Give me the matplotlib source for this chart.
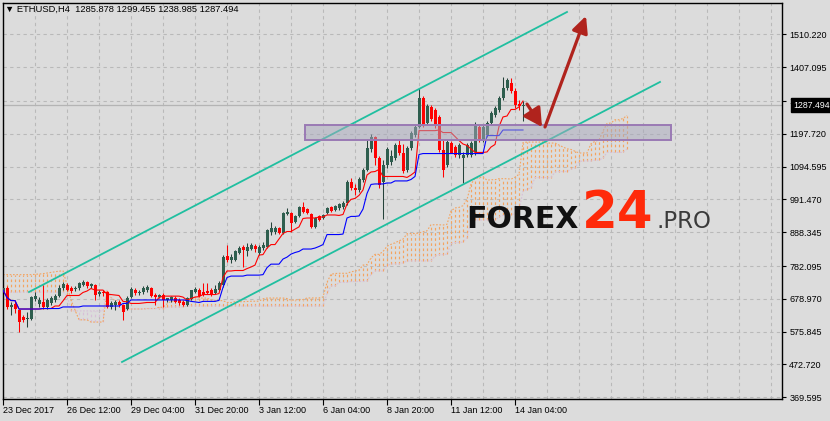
import numpy as np
import pandas as pd
import matplotlib
matplotlib.use("Agg")
import matplotlib.pyplot as plt
import matplotlib.transforms as mtransforms
from matplotlib.patches import Rectangle, FancyArrowPatch

# ETHUSD H4 candles (bar 0 = 23 Dec 2017)
opens = [700, 713, 653, 663, 644, 622, 616, 616, 679, 663, 669, 653, 666, 675, 688, 713,
         722, 713, 710, 713, 722, 732, 719, 722, 694, 700, 700, 653, 660, 669, 660, 647,
         685, 707, 697, 700, 707, 713, 691, 685, 691, 675, 675, 682, 675, 669, 660, 679,
         700, 707, 700, 705, 707, 697, 707, 722, 814, 801, 801, 823, 842, 829, 836, 845,
         823, 839, 842, 889, 889, 902, 886, 946, 949, 920, 939, 968, 961, 946, 905, 939,
         933, 949, 968, 958, 964, 968, 980, 1046, 1027, 1021, 1052, 1084, 1150, 1187, 1122, 1046,
         1099, 1109, 1122, 1162, 1137, 1084, 1153, 1194, 1219, 1310, 1231, 1282, 1272, 1250, 1147, 1099,
         1169, 1156, 1131, 1122, 1131, 1131, 1140, 1219, 1178, 1194, 1231, 1257, 1272, 1310, 1341, 1357,
         1332, 1291, 1285.878]
highs = [719, 719, 669, 675, 647, 628, 638, 688, 700, 685, 722, 682, 688, 694, 722, 732,
         729, 719, 719, 732, 738, 735, 729, 726, 707, 707, 704, 672, 675, 675, 662, 688,
         716, 713, 707, 719, 722, 716, 697, 694, 697, 682, 688, 688, 682, 675, 685, 707,
         716, 713, 729, 729, 713, 722, 735, 817, 848, 820, 832, 845, 848, 854, 854, 851,
         848, 857, 898, 920, 908, 905, 952, 964, 952, 942, 971, 983, 964, 949, 936, 942,
         946, 968, 971, 974, 980, 986, 1052, 1059, 1040, 1062, 1090, 1181, 1197, 1191, 1128, 1115,
         1156, 1147, 1169, 1178, 1165, 1159, 1206, 1225, 1341, 1316, 1291, 1288, 1279, 1257, 1178, 1178,
         1175, 1162, 1169, 1140, 1169, 1175, 1235, 1225, 1225, 1238, 1269, 1285, 1316, 1376, 1373, 1373,
         1341, 1304, 1299.455]
lows = [694, 647, 628, 635, 575, 606, 591, 613, 672, 653, 647, 647, 660, 669, 685, 707,
        704, 697, 704, 707, 719, 713, 713, 675, 688, 688, 650, 647, 644, 653, 613, 644,
        682, 691, 691, 694, 700, 685, 660, 682, 653, 669, 669, 666, 660, 656, 656, 675,
        697, 685, 688, 694, 688, 694, 704, 716, 795, 792, 798, 820, 779, 814, 832, 826,
        817, 832, 839, 880, 883, 883, 883, 942, 889, 917, 936, 949, 946, 902, 902, 924,
        930, 946, 952, 955, 958, 961, 974, 1021, 1005, 1015, 1046, 1081, 1140, 1099, 1027, 930,
        1090, 1099, 1115, 1131, 1074, 1078, 1147, 1188, 1216, 1219, 1225, 1238, 1216, 1140, 1062, 1093,
        1137, 1125, 1122, 1043, 1125, 1125, 1131, 1172, 1172, 1188, 1225, 1250, 1266, 1304, 1335, 1326,
        1279, 1272, 1238.985]
closes = [713, 653, 660, 647, 606, 613, 619, 685, 688, 675, 653, 675, 682, 688, 713, 726,
          707, 704, 713, 729, 732, 719, 726, 691, 700, 697, 653, 666, 669, 660, 638, 682,
          710, 697, 700, 713, 716, 688, 685, 691, 675, 682, 685, 669, 666, 660, 682, 707,
          710, 688, 691, 697, 691, 710, 729, 810, 801, 810, 829, 839, 832, 842, 848, 836,
          842, 848, 895, 902, 902, 886, 949, 952, 917, 939, 968, 952, 949, 905, 933, 927,
          942, 964, 955, 971, 977, 980, 1046, 1027, 1021, 1056, 1084, 1153, 1187, 1122, 1037, 1099,
          1150, 1128, 1162, 1137, 1081, 1153, 1200, 1219, 1310, 1225, 1285, 1244, 1225, 1147, 1084, 1172,
          1137, 1131, 1162, 1131, 1162, 1169, 1225, 1178, 1219, 1231, 1263, 1279, 1310, 1341, 1367, 1332,
          1288, 1285, 1287.494]

# cloud over bars 0-25 comes from history before the visible window
lead_span_a = [755, 755, 755, 755, 755, 755, 755, 755, 756, 757, 758, 760, 762, 764, 766, 767,
               723, 675, 644, 613, 613, 613, 606, 606, 606, 606]
lead_span_b = [700, 700, 700, 700, 700, 700, 700, 700, 700, 700, 700, 700, 700, 700, 700, 700,
               690, 641, 641, 641, 641, 641, 641, 641, 641, 641]

date_pos = [0, 16, 32, 48, 64, 80, 96, 112, 128]
date_labels = ["23 Dec 2017", "26 Dec 12:00", "29 Dec 04:00", "31 Dec 20:00", "3 Jan 12:00",
               "6 Jan 04:00", "8 Jan 20:00", "11 Jan 12:00", "14 Jan 04:00"]
price_ticks = [1510.220, 1407.095, 1300.945, 1197.720, 1094.595, 991.470, 888.345,
               782.095, 678.970, 575.845, 472.720, 369.595]

# drawn objects (bar index, price)
channel_up = [(6.5, 700.5), (141.0, 1580.3)]
channel_dn = [(29.75, 480.6), (164.25, 1360.4)]
zone = (75.5, 1179.1, 167.0, 1223.7)   # x0, y0, x1, y1
arrow_down = [(131.0, 1291.0), (134.75, 1219.0)]
arrow_up = [(135.5, 1219.0), (145.75, 1568.0)]

BG = "#dcdcdc"
BULL = "#2e5e4e"
BEAR = "#ff0000"

plt.rcParams['font.family'] = ['Liberation Sans', 'DejaVu Sans']

n = len(closes)
x = np.arange(n)
o = np.array(opens, float)
h = np.array(highs, float)
l = np.array(lows, float)
c = np.array(closes, float)

# Ichimoku (9, 26, 52)
df = pd.DataFrame({"h": h, "l": l})
tenkan = (df.h.rolling(9, min_periods=1).max() + df.l.rolling(9, min_periods=1).min()) / 2
kijun = (df.h.rolling(26, min_periods=1).max() + df.l.rolling(26, min_periods=1).min()) / 2
span_a = np.concatenate([lead_span_a, ((tenkan + kijun) / 2).values])
span_b = np.concatenate([lead_span_b,
                         ((df.h.rolling(52, min_periods=1).max() + df.l.rolling(52, min_periods=1).min()) / 2).values])
x_span = np.arange(len(span_a))

W, H = 830, 421
fig = plt.figure(figsize=(W / 100, H / 100), dpi=100, facecolor=BG)
ax = fig.add_axes([2.7 / W, 1 - 399.4 / H, (782.3 - 2.7) / W, (399.4 - 2.7) / H])
ax.set_facecolor(BG)
ax.set_xlim(-0.075, 194.825)
ax.set_ylim(363.0, 1609.5)

# grid
for gx in range(0, 195, 8):
    ax.axvline(gx, color="#b9b9b9", lw=0.8, ls=(0, (3, 3)), zorder=0)
for gy in price_ticks:
    ax.axhline(gy, color="#b9b9b9", lw=0.8, ls=(0, (3, 3)), zorder=0)

# kumo hatch
for xs, a, b in zip(x_span, span_a, span_b):
    col = "#f4a460" if a >= b else "#d8bfd8"
    ax.vlines(xs, min(a, b), max(a, b), color=col, lw=0.85, ls=(0, (2.2, 2.2)), zorder=1)
ax.plot(x_span, span_a, color="#f4a460", lw=0.8, ls=(0, (1.5, 1.5)), zorder=1)
ax.plot(x_span, span_b, color="#d8bfd8", lw=0.8, ls=(0, (1.5, 1.5)), zorder=1)

# bid line
ax.axhline(c[-1], color="#b4b4b4", lw=0.9, zorder=1.5)

# candles
bull = c >= o
ax.vlines(x[bull], l[bull], h[bull], color="#25423a", lw=0.75, zorder=2)
ax.vlines(x[~bull], l[~bull], h[~bull], color=BEAR, lw=0.75, zorder=2)
body_lo = np.minimum(o, c)
body_h = np.maximum(np.abs(c - o), 1.5)
ax.bar(x[bull], body_h[bull], bottom=body_lo[bull], width=0.75, color=BULL, lw=0, zorder=3)
ax.bar(x[~bull], body_h[~bull], bottom=body_lo[~bull], width=0.75, color=BEAR, lw=0, zorder=3)

# tenkan / kijun
ax.plot(x, tenkan, color="#ff0000", lw=0.8, zorder=4)
ax.plot(x, kijun, color="#0000ff", lw=0.8, zorder=4)

# channel
for line in (channel_up, channel_dn):
    ax.plot([line[0][0], line[1][0]], [line[0][1], line[1][1]], color="#20bfa0", lw=1.3, zorder=5)

# zone rectangle
ax.add_patch(Rectangle((zone[0], zone[1]), zone[2] - zone[0], zone[3] - zone[1],
                       fc="#a8a8bc", ec="none", alpha=0.5, zorder=6))
ax.add_patch(Rectangle((zone[0], zone[1]), zone[2] - zone[0], zone[3] - zone[1],
                       fc="none", ec="#9a7ab4", lw=1.4, zorder=6))

# arrows
for arr, hl, hw in ((arrow_down, 0.55, 0.3), (arrow_up, 0.5, 0.24)):
    ax.add_patch(FancyArrowPatch(arr[0], arr[1],
                                 arrowstyle="-|>,head_length=%s,head_width=%s" % (hl, hw),
                                 mutation_scale=20, lw=2.3, color="#b0231d",
                                 shrinkA=0, shrinkB=0, zorder=7))

# axes styling
for sp in ax.spines.values():
    sp.set_color("black")
    sp.set_linewidth(1.0)
ax.yaxis.tick_right()
ax.set_yticks(price_ticks)
ax.set_yticklabels(["%.3f" % p for p in price_ticks])
ax.set_xticks(date_pos)
ax.set_xticklabels(date_labels)
for lbl in ax.get_xticklabels():
    lbl.set_horizontalalignment("left")
ax.tick_params(axis="y", direction="out", length=3, width=0.8, pad=2, labelsize=6.5, colors="black")
ax.tick_params(axis="x", direction="out", length=4, width=0.8, pad=1, labelsize=6.5, colors="black")

# current price tag
blend = mtransforms.blended_transform_factory(ax.transAxes, ax.transData)
ax.text(1.0145, c[-1], "%.3f" % c[-1], transform=blend, ha="left", va="center",
        fontsize=6.3, color="white", zorder=10, clip_on=False,
        bbox=dict(boxstyle="square,pad=0.3", fc="black", ec="black"))

# header
fig.text(5 / W, 1 - 9.5 / H,
         "\u25bc ETHUSD,H4  %.3f %.3f %.3f %.3f" % (o[-1], h[-1], l[-1], c[-1]),
         fontsize=6.75, va="center", ha="left", color="black")

# watermark
base = 1 - 228 / H
fig.text(466 / W, base, "FOREX", family="DejaVu Sans", weight="bold", fontsize=21.5,
         color="#111111", va="baseline", zorder=20)
fig.text(582 / W, base, "24", family="DejaVu Sans", weight="bold", fontsize=37,
         color="#ff2a0a", va="baseline", zorder=20)
fig.text(656 / W, base, ".PRO", family="DejaVu Sans", fontsize=16.5,
         color="#3a3a3a", va="baseline", zorder=20)

fig.savefig("out.png", dpi=100, facecolor=BG)
